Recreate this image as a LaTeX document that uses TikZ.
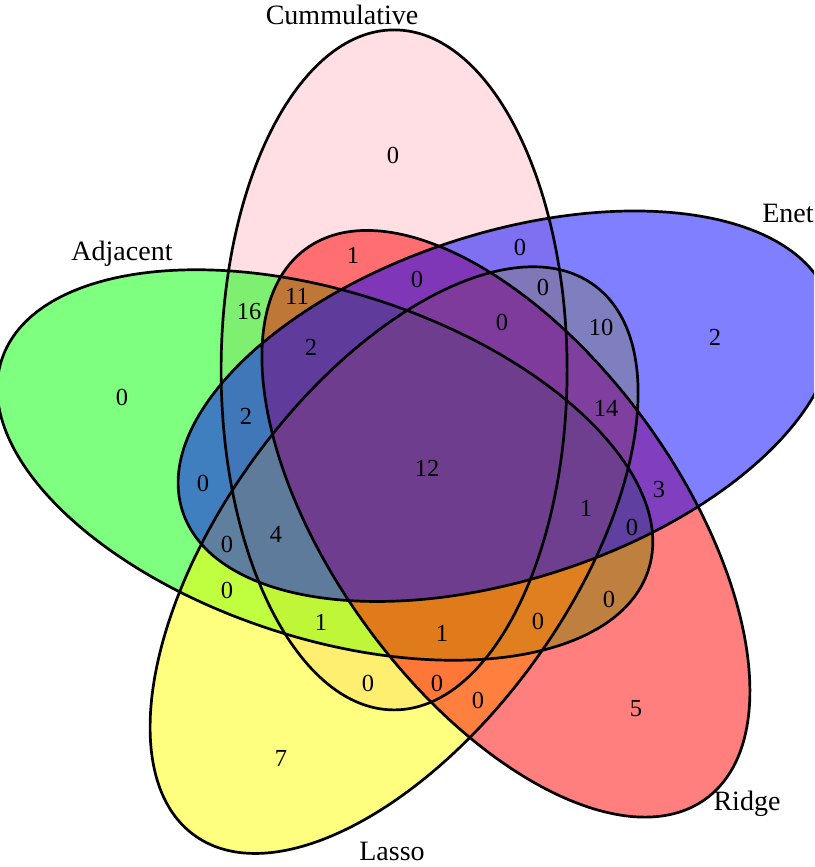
\documentclass[tikz,border=0pt]{standalone}
\usepackage{fontspec}
\setmainfont{Liberation Serif}
\usepackage{tikz}
\definecolor{cumPink}{RGB}{255,192,203}
\definecolor{adjGreen}{RGB}{0,255,0}
\definecolor{lasYellow}{RGB}{255,255,0}
\definecolor{ridRed}{RGB}{255,0,0}
\definecolor{enetBlue}{RGB}{0,0,255}

\begin{document}
\begin{tikzpicture}[
  x=1pt, y=-1pt,
  setfill/.style={fill=#1, fill opacity=0.5},
  setline/.style={draw=black, line width=2.7pt},
  num/.style={inner sep=0pt, font=\fontsize{24.5}{28}\selectfont},
  cat/.style={inner sep=0pt, anchor=base, font=\fontsize{28}{32}\selectfont}
]
  \useasboundingbox (0,0) rectangle (814,867);
  \clip (0,0) rectangle (814,867);
  \fill[white] (0,0) rectangle (814,867);
  \coordinate (ctr) at (425,465);

  % ellipses: fills first, then outlines
  \foreach \rot/\col in {0/cumPink,72/adjGreen,144/lasYellow,216/ridRed,288/enetBlue}{
    \begin{scope}[shift={(ctr)}, rotate=\rot]
      \fill[setfill=\col] (252:100) ellipse [x radius=173, y radius=340];
    \end{scope}
  }
  \foreach \rot in {0,72,144,216,288}{
    \begin{scope}[shift={(ctr)}, rotate=\rot]
      \draw[setline] (252:100) ellipse [x radius=173, y radius=340];
    \end{scope}
  }

  % set names
  \node[cat] (cum) at (342,25) {Cummulative};
  \node[cat] (enet) at (788,222) {Enet};
  \node[cat] (adj) at (122,260) {Adjacent};
  \node[cat] (ridge) at (747,810) {Ridge};
  \node[cat] (lasso) at (392,860) {Lasso};

  % region counts
  \foreach \x/\y/\v [count=\i] in {
    393/155/0, 715/337/2, 122/397/0, 636/709/5, 281/758/7,
    353/255/1, 520/247/0, 417/279/0, 543/287/0, 249/312/16,
    297/296/11, 502/322/0, 601/327/10, 311/347/2, 246/416/2,
    606/408/14, 427/468/12, 203/483/0, 659/490/3, 586/508/1,
    632/527/0, 227/544/0, 276/534/4, 227/590/0, 609/599/0,
    321/622/1, 442/633/1, 538/621/0, 368/683/0, 437/683/0,
    478/700/0}
    \node[num] (r\i) at (\x,\y) {\v};
\end{tikzpicture}
\end{document}
